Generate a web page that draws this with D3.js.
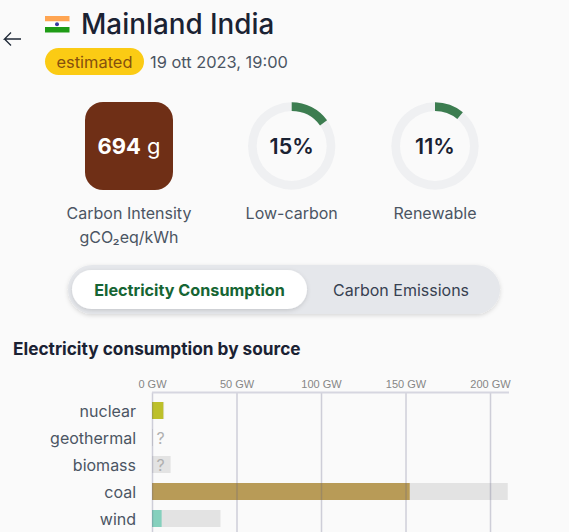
<!DOCTYPE html>
<html>
<head>
<meta charset="utf-8">
<script src="https://cdnjs.cloudflare.com/ajax/libs/d3/7.8.5/d3.min.js"></script>
<style>
  html, body { margin: 0; padding: 0; background: #fafafa; overflow: hidden; }
  svg { display: block; font-family: Inter, sans-serif; }
  .tick-axis text { font-family: "Liberation Sans", Arial, sans-serif; font-size: 11px; fill: #868686; }
</style>
</head>
<body>
<svg id="chart" width="569" height="532"></svg>
<script>
// chart data
const sources = ["nuclear", "geothermal", "biomass", "coal", "wind"];
const production = [6.7, null, null, 152.5, 5.7];
const capacity = [7.2, 0.6, 11, 210.5, 40.5];
const sourceColors = ["#bdc02a", "#a0a0a0", "#a0a0a0", "#b89b57", "#85d0bd"];
const gwTicks = [0, 50, 100, 150, 200];

const statLabels = ["Low-carbon", "Renewable"];
const statValues = [15, 11];
const flagStripes = ["#ffa552", "#ffffff", "#1f9c16"];

const svg = d3.select("#chart");

// header
const flag = svg.append("g").attr("transform", "translate(45,16)");
flag.selectAll("rect").data(flagStripes).join("rect")
  .attr("x", 0)
  .attr("y", (d, i) => i * 5.5)
  .attr("width", 24.5)
  .attr("height", 5.5)
  .attr("fill", d => d);
flag.append("circle").attr("cx", 12).attr("cy", 8.2).attr("r", 2).attr("fill", "#3a3aa0");

svg.append("text").attr("x", 81).attr("y", 33.5)
  .attr("font-size", 27.8).attr("font-weight", 500).attr("fill", "#1a2233")
  .text("Mainland India");

svg.append("path")
  .attr("d", d3.line()([[21, 39], [4.5, 39], [11, 32.5]]) + d3.line()([[4.5, 39], [11, 45.5]]))
  .attr("fill", "none").attr("stroke", "#1f2937").attr("stroke-width", 1.3);

svg.append("rect").attr("x", 45).attr("y", 48).attr("width", 99).attr("height", 27).attr("rx", 13.5)
  .attr("fill", "#fbcb14");
svg.append("text").attr("x", 94.5).attr("y", 67.5).attr("text-anchor", "middle")
  .attr("font-size", 16.4).attr("fill", "#85500e").text("estimated");
svg.append("text").attr("x", 150).attr("y", 67.5)
  .attr("font-size", 16.4).attr("fill", "#4b5563").text("19 ott 2023, 19:00");

// carbon intensity square
svg.append("rect").attr("x", 85).attr("y", 102).attr("width", 88).attr("height", 88).attr("rx", 18)
  .attr("fill", "#6f2f16");
const co2 = svg.append("text").attr("x", 129).attr("y", 154).attr("text-anchor", "middle")
  .attr("font-size", 22).attr("fill", "#fff");
co2.append("tspan").attr("font-weight", 700).text("694");
co2.append("tspan").text(" g");

svg.append("text").attr("x", 129).attr("y", 219).attr("text-anchor", "middle")
  .attr("font-size", 16).attr("fill", "#4b5563").text("Carbon Intensity");
svg.append("text").attr("x", 129).attr("y", 243).attr("text-anchor", "middle")
  .attr("font-size", 16).attr("fill", "#4b5563").text("gCO₂eq/kWh");

// donuts
const arc = d3.arc().innerRadius(35).outerRadius(43.7);
const tau = 2 * Math.PI;
const donutX = d3.scalePoint().domain(statLabels).range([291.7, 435]);
const donut = svg.selectAll(".donut").data(statLabels).join("g")
  .attr("class", "donut")
  .attr("transform", d => `translate(${donutX(d)},146)`);
donut.append("path").attr("d", arc({ startAngle: 0, endAngle: tau })).attr("fill", "#eff0f2");
donut.append("path")
  .attr("d", (d, i) => arc({ startAngle: 0, endAngle: tau * statValues[i] / 100 }))
  .attr("fill", "#3c7d50");
donut.append("text").attr("y", 8).attr("text-anchor", "middle")
  .attr("font-size", 21.5).attr("font-weight", 600).attr("fill", "#1a2233")
  .text((d, i) => statValues[i] + "%");
donut.append("text").attr("y", 73).attr("text-anchor", "middle")
  .attr("font-size", 16).attr("fill", "#4b5563").text(d => d);

// toggle
const defs = svg.append("defs");
const shadow = defs.append("filter").attr("id", "shadow")
  .attr("x", "-10%").attr("y", "-30%").attr("width", "120%").attr("height", "170%");
shadow.append("feDropShadow").attr("dx", 0).attr("dy", 1.5).attr("stdDeviation", 2)
  .attr("flood-color", "#000").attr("flood-opacity", 0.14);

svg.append("rect").attr("x", 68).attr("y", 265).attr("width", 432).attr("height", 49).attr("rx", 24.5)
  .attr("fill", "#e5e7eb").attr("filter", "url(#shadow)");
svg.append("rect").attr("x", 72).attr("y", 270).attr("width", 235).attr("height", 39).attr("rx", 19.5)
  .attr("fill", "#fff").attr("filter", "url(#shadow)");
svg.append("text").attr("x", 189.5).attr("y", 295.5).attr("text-anchor", "middle")
  .attr("font-size", 16.2).attr("font-weight", 700).attr("fill", "#166534").text("Electricity Consumption");
svg.append("text").attr("x", 401).attr("y", 295.5).attr("text-anchor", "middle")
  .attr("font-size", 16).attr("fill", "#374151").text("Carbon Emissions");

svg.append("text").attr("x", 13).attr("y", 355)
  .attr("font-size", 17.25).attr("font-weight", 700).attr("fill", "#1a2233")
  .text("Electricity consumption by source");

// bar chart
const x = d3.scaleLinear().domain([0, 211]).range([152, 508.6]);
const y = d3.scaleBand().domain(sources).range([397, 532]).paddingInner(10 / 27).paddingOuter(5 / 27);

const rows = svg.selectAll(".row").data(sources).join("g").attr("class", "row");

rows.append("rect")
  .attr("x", x(0))
  .attr("y", d => y(d))
  .attr("width", (d, i) => x(capacity[i]) - x(0))
  .attr("height", y.bandwidth())
  .attr("fill", "#e3e3e3");

rows.append("rect")
  .attr("x", x(0))
  .attr("y", d => y(d))
  .attr("width", (d, i) => production[i] === null ? 0 : x(production[i]) - x(0))
  .attr("height", y.bandwidth())
  .attr("fill", (d, i) => sourceColors[i]);

rows.append("text")
  .attr("x", 136)
  .attr("y", d => y(d) + y.bandwidth() / 2 + 6)
  .attr("text-anchor", "end")
  .attr("font-size", 16)
  .attr("fill", "#4b5563")
  .text(d => d);

rows.filter((d, i) => production[i] === null).append("text")
  .attr("x", x(0) + 8.5)
  .attr("y", d => y(d) + y.bandwidth() / 2 + 6)
  .attr("text-anchor", "middle")
  .attr("font-size", 16)
  .attr("fill", "#b0b0b0")
  .text("?");

const axis = d3.axisTop(x)
  .tickValues(gwTicks)
  .tickFormat(d => d + " GW")
  .tickSize(-140)
  .tickPadding(5);

const axisG = svg.append("g").attr("class", "tick-axis")
  .attr("transform", "translate(0,392.5)")
  .call(axis);
axisG.select(".domain").remove();
axisG.selectAll(".tick line")
  .attr("stroke", "#5f5f80").attr("stroke-opacity", 0.28).attr("stroke-width", 1.5);
axisG.selectAll(".tick text").attr("dy", "0");
axisG.append("line").attr("x1", x(0)).attr("x2", 509).attr("y1", 0).attr("y2", 0)
  .attr("stroke", "#d6d6e0").attr("stroke-width", 2);
</script>
</body>
</html>
